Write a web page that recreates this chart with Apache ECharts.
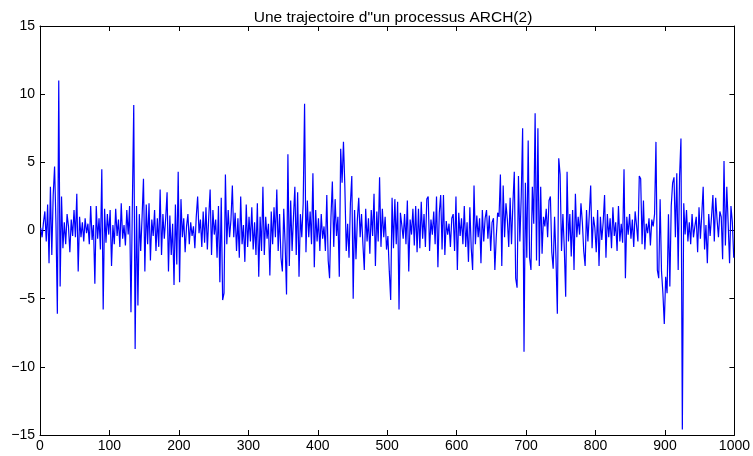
<!DOCTYPE html>
<html>
<head>
<meta charset="utf-8">
<script src="https://cdn.jsdelivr.net/npm/echarts@6/dist/echarts.min.js"></script>
<style>
html,body{margin:0;padding:0;background:#fff;}
#chart{width:753px;height:456px;}
</style>
</head>
<body>
<div id="chart"></div>
<script>
// Sample spacing (every other time step of the 1000-step trajectory)
const SAMPLE_STEP = 2;
const FIRST_T = 1;

// Values, 10 samples per row (20 time steps per row)
const trajectory = [
  0.2, -0.5, 0.6, 1.4, -0.8, 1.9, -2.4, 3.2, -1.8, 2.6,
  4.7, 0.5, -6.1, 11.0, -4.1, 2.5, -1.3, 0.6, -1.0, 1.2,
  0.3, -1.6, 0.8, -0.4, 1.5, -0.5, 2.7, -3.0, 1.0, -0.5,
  0.6, -0.8, 0.9, -0.2, 0.5, -1.0, 1.8, -0.7, 0.4, -3.9,
  1.8, -0.6, 0.9, -1.4, 4.5, -5.8, 1.6, -0.9, 1.2, -0.3,
  1.5, -2.6, 0.4, -1.0, 1.6, -0.4, 0.8, -1.2, 2.0, -0.6,
  0.4, -1.1, 1.5, -0.3, 1.8, -6.0, 1.9, 9.2, -8.7, 1.8,
  -5.5, 1.2, -1.5, 1.0, 3.8, -3.0, 1.9, -1.0, 2.0, -2.2,
  0.8, -0.4, 1.5, -1.5, 0.9, -1.2, 3.0, -1.8, 1.2, -0.6,
  0.9, 2.8, -3.0, 1.1, -1.8, 0.5, -4.0, 1.9, -2.5, 4.3,
  -3.8, 2.3, -0.5, 0.9, -1.6, 0.3, 1.2, -1.0, 0.6, -0.4,
  0.3, -1.3, 1.0, 2.5, -0.2, 0.8, -1.2, 1.4, -0.9, 1.7,
  -1.4, 1.0, 3.0, -1.8, 1.5, -0.3, 0.8, -2.0, 1.8, -3.8,
  2.4, -5.1, -4.6, 4.1, -1.0, 1.5, -0.5, 0.8, 3.3, -0.5,
  1.3, -1.5, 0.9, -2.0, 2.5, -1.0, 0.4, -2.3, 1.9, -1.2,
  1.0, -0.8, 1.7, -1.4, 0.6, -1.8, 2.0, -3.4, 1.0, -1.5,
  3.2, -1.8, 1.0, -0.6, 0.5, -3.3, 1.4, -1.0, 1.7, -0.5,
  3.0, -1.5, 1.2, -2.0, -3.0, 1.6, -1.0, -4.7, 5.6, -2.6,
  2.2, -1.5, 1.0, 3.2, -1.8, 2.8, -3.4, 1.2, -0.5, 2.0,
  9.3, -1.6, 2.2, -0.5, 1.4, -1.0, 4.2, -2.7, 1.5, -0.8,
  0.9, -1.5, 1.2, -0.6, 0.3, -1.5, 2.6, -2.2, -3.5, 1.0,
  3.6, -1.2, 2.3, -0.4, 1.0, -3.4, 6.0, 3.5, 6.5, 3.2,
  -1.5, 0.5, -2.0, 2.0, 4.0, -5.0, 1.5, -2.1, 0.8, 2.4,
  -0.5, 1.2, -1.0, -2.9, 1.6, -0.8, 0.9, -1.7, 1.5, -0.4,
  2.7, -2.6, 1.4, -0.8, 3.9, -1.2, 1.6, -0.5, 1.0, -1.4,
  -0.4, -3.0, -5.1, 2.4, -1.3, 2.3, -1.0, 2.1, -5.8, 1.3,
  0.4, -0.6, 1.2, -1.0, 2.2, -3.0, 0.8, -0.3, 1.6, -1.1,
  1.8, -1.6, 1.6, -1.3, 2.1, -0.6, 1.2, -1.2, 2.3, 2.5,
  -1.5, 0.8, -0.3, 1.4, -1.0, 2.5, -2.7, 1.3, 2.6, -1.4,
  2.6, -1.8, 0.7, -0.3, 0.5, -1.2, 0.9, 1.2, -1.5, 2.5,
  -2.9, 1.3, -0.4, 0.9, -1.0, 1.8, -1.2, 0.6, -2.3, 1.7,
  -1.3, -2.9, 3.3, -1.0, 1.1, -0.5, 0.9, -2.4, 1.5, -0.8,
  0.9, 1.5, -0.6, 1.1, -1.5, 0.6, 0.9, -2.9, -0.5, 1.3,
  1.0, 4.1, -2.6, 3.3, -0.5, 2.0, 0.8, -1.2, 2.4, -1.0,
  2.0, 4.3, -3.5, -4.2, 4.0, -0.8, 2.5, 7.5, -8.9, 3.5,
  -2.0, 6.6, -2.0, -2.9, 3.2, 0.5, 8.6, -2.2, 7.5, -2.6,
  3.2, -1.7, 1.0, 0.3, 1.6, -0.5, 2.2, 2.5, -1.6, -2.8,
  1.0, -2.0, -6.1, 5.3, 4.1, -1.5, 1.2, -1.3, -4.85, 4.3,
  -0.8, 1.2, -1.9, 1.5, -2.9, 2.7, -0.5, 1.0, -0.3, 2.0,
  0.6, -1.5, -2.6, 1.5, -0.8, 1.2, 3.3, -1.3, 1.0, 0.2,
  -1.6, 1.5, -2.6, 1.0, -0.7, 0.6, 2.6, -2.0, 1.2, -0.5,
  0.9, -1.3, 1.7, -0.4, 0.6, -1.5, 1.8, -0.8, 0.5, -0.9,
  4.5, -3.5, 1.0, -0.3, 1.2, -0.6, 0.8, -1.2, 1.4, 0.4,
  -0.8, 4.0, 3.8, -1.0, 2.2, -1.4, 0.5, -0.2, 0.9, -1.1,
  0.8, 0.3, 1.2, 6.5, -2.9, -3.5, 2.3, -3.0, -4.6, -6.85,
  -3.4, -4.6, 1.2, -4.1, 1.8, 3.5, 3.9, -0.5, 4.2, -2.9,
  4.0, 6.75, -14.6, 2.0, -0.3, 1.5, -0.8, 0.6, -1.0, 1.2,
  -0.5, 0.3, 1.0, -1.6, 1.7, -0.6, 1.2, 3.2, -1.4, 0.4,
  -2.4, 1.2, -0.4, 1.0, 2.6, -0.8, 2.4, 0.8, -0.5, 1.4,
  1.0, -2.1, 5.1, -1.1, 3.2, 0.5, -2.4, 1.8, 0.6, -2.0
];

const xTicks = [0, 100, 200, 300, 400, 500, 600, 700, 800, 900, 1000];
const yTicks = [-15, -10, -5, 0, 5, 10, 15];
const titleText = 'Une trajectoire d"un processus ARCH(2)';

const points = trajectory.map((v, i) => [FIRST_T + i * SAMPLE_STEP, v]);

const FONT = '"Liberation Sans", Arial, Helvetica, sans-serif';
const minusFmt = v => String(v).replace('-', '\u2212');

const baseAxis = {
  axisLine: { show: true, onZero: false, lineStyle: { color: '#000', width: 1 } },
  axisTick: { show: true, inside: true, length: 5, lineStyle: { color: '#000', width: 1 } },
  splitLine: { show: false }
};

const chart = echarts.init(document.getElementById('chart'), null, { renderer: 'canvas' });
chart.setOption({
  animation: false,
  backgroundColor: '#fff',
  title: {
    text: titleText,
    left: 388, top: 5, textAlign: 'center',
    textStyle: { fontFamily: FONT, fontSize: 15.5, fontWeight: 'normal', color: '#000' }
  },
  grid: { left: 40, right: 18, top: 26, bottom: 21, containLabel: false },
  xAxis: [
    Object.assign({}, baseAxis, {
      type: 'value', position: 'bottom', min: 0, max: 1000, interval: 100,
      axisLabel: { color: '#000', fontFamily: FONT, fontSize: 14, margin: 4, formatter: minusFmt }
    }),
    Object.assign({}, baseAxis, {
      type: 'value', position: 'top', min: 0, max: 1000, interval: 100,
      axisLabel: { show: false }
    })
  ],
  yAxis: [
    Object.assign({}, baseAxis, {
      type: 'value', position: 'left', min: -15, max: 15, interval: 5,
      axisLabel: { color: '#000', fontFamily: FONT, fontSize: 14, margin: 5, formatter: minusFmt }
    }),
    Object.assign({}, baseAxis, {
      type: 'value', position: 'right', min: -15, max: 15, interval: 5,
      axisLabel: { show: false }
    })
  ],
  series: [{
    type: 'line',
    data: points,
    xAxisIndex: 0, yAxisIndex: 0,
    showSymbol: false,
    symbol: 'none',
    lineStyle: { color: '#0000ff', width: 1.2 },
    clip: true
  }]
});
</script>
</body>
</html>
